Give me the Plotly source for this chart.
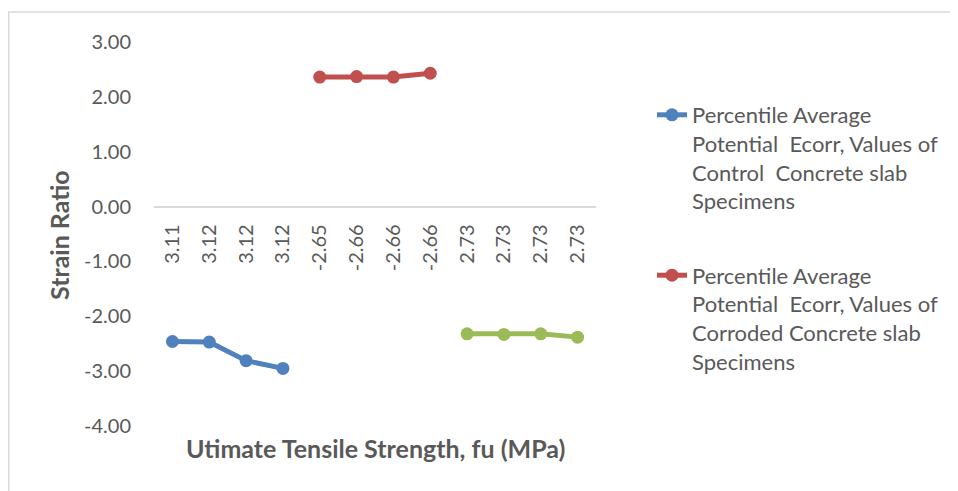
import plotly.graph_objects as go

# ---- data ----
tick_labels = ["3.11", "3.12", "3.12", "3.12", "-2.65", "-2.66", "-2.66", "-2.66",
               "2.73", "2.73", "2.73", "2.73"]
y_tick_vals = [3, 2, 1, 0, -1, -2, -3, -4]
y_tick_labels = ["3.00", "2.00", "1.00", "0.00", "-1.00", "-2.00", "-3.00", "-4.00"]
control_vals = [-2.46, -2.47, -2.81, -2.95, None, None, None, None, None, None, None, None]
corroded_vals = [None, None, None, None, 2.36, 2.37, 2.36, 2.43, None, None, None, None]
third_vals = [None, None, None, None, None, None, None, None, -2.32, -2.33, -2.32, -2.38]

control_name = "Percentile Average<br>Potential  Ecorr, Values of<br>Control  Concrete slab<br>Specimens"
corroded_name = "Percentile Average<br>Potential  Ecorr, Values of<br>Corroded Concrete slab<br>Specimens"

x_idx = list(range(len(tick_labels)))

FONT = "Lato"
TXT = "#595959"

fig = go.Figure()
fig.add_trace(go.Scatter(x=x_idx, y=control_vals, mode="lines+markers", name=control_name,
                         line=dict(color="#4F81BD", width=5), marker=dict(size=13, color="#4F81BD"),
                         legendgroup="a"))
fig.add_trace(go.Scatter(x=x_idx, y=corroded_vals, mode="lines+markers", name=corroded_name,
                         line=dict(color="#C0504D", width=5), marker=dict(size=13, color="#C0504D"),
                         legendgroup="b"))
fig.add_trace(go.Scatter(x=x_idx, y=third_vals, mode="lines+markers", name="Series3",
                         line=dict(color="#9BBB59", width=5), marker=dict(size=13, color="#9BBB59"),
                         showlegend=False, legendgroup="c"))

OFF = 8  # page body margin
W, H = 950, 483
L, T = 146, 34
pw, ph = 442, 384
R = W - L - pw
B = H - T - ph

def px_x(p):  # page pixel -> paper x
    return (p - OFF - L) / pw

def px_y(p):  # page pixel -> paper y
    return (T + ph - (p - OFF)) / ph

fig.update_layout(
    width=W, height=H,
    margin=dict(l=L, r=R, t=T, b=B, pad=0),
    paper_bgcolor="white", plot_bgcolor="white",
    font=dict(family=FONT, color=TXT, size=20),
    xaxis=dict(
        range=[-0.5, len(tick_labels) - 0.5],
        tickmode="array", tickvals=x_idx, ticktext=tick_labels,
        tickangle=-90, showgrid=False, zeroline=False,
        showline=True, linecolor="#d9d9d9", linewidth=1.5,
        anchor="free", position=4 / 7,
        ticks="", ticklabelstandoff=9,
        tickfont=dict(family=FONT, size=20, color=TXT),
    ),
    yaxis=dict(
        range=[-4, 3], tickmode="array", tickvals=y_tick_vals, ticktext=y_tick_labels,
        showgrid=False, zeroline=False, showline=False, ticks="",
        ticklabelstandoff=22,
        tickfont=dict(family=FONT, size=20, color=TXT),
    ),
    legend=dict(
        x=px_x(652), y=px_y(94), xanchor="left", yanchor="top",
        font=dict(family=FONT, size=22, color=TXT),
        valign="top", tracegroupgap=43, traceorder="grouped",
        bgcolor="rgba(0,0,0,0)",
    ),
    showlegend=True,
    annotations=[
        dict(text="<b>Utimate Tensile Strength, fu (MPa)</b>", xref="paper", yref="paper",
             x=px_x(375.5), y=px_y(448), xanchor="center", yanchor="middle", showarrow=False,
             font=dict(family=FONT, size=25, color=TXT)),
        dict(text="<b>Strain Ratio</b>", xref="paper", yref="paper", textangle=-90,
             x=px_x(59), y=px_y(235), xanchor="center", yanchor="middle", showarrow=False,
             font=dict(family=FONT, size=25, color=TXT)),
    ],
    shapes=[
        dict(type="rect", xref="paper", yref="paper",
             x0=px_x(8.8), x1=px_x(990), y0=px_y(12), y1=px_y(520),
             line=dict(color="#d9d9d9", width=1.5), fillcolor="rgba(0,0,0,0)", layer="below"),
    ],
)

fig.write_html("out.html")
